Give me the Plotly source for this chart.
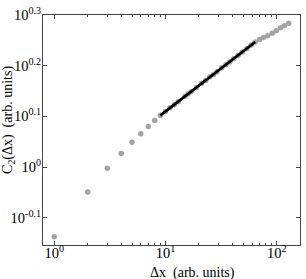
import plotly.graph_objects as go

dx = [1, 2, 3, 4, 5, 6, 7, 8, 9, 10, 11, 12, 13, 15, 16, 17, 19, 21, 23, 25, 27, 29,
      32, 35, 38, 41, 45, 49, 54, 59, 64, 70, 76, 83, 91, 99, 108, 117, 128]
c2 = [0.728, 0.893, 0.995, 1.064, 1.119, 1.164, 1.202, 1.236, 1.265, 1.288, 1.309,
      1.327, 1.346, 1.380, 1.396, 1.409, 1.435, 1.462, 1.483, 1.507, 1.524, 1.542,
      1.570, 1.592, 1.614, 1.637, 1.663, 1.687, 1.714, 1.742, 1.766, 1.786, 1.803,
      1.816, 1.837, 1.858, 1.884, 1.901, 1.923]
fit_range = (9, 64)

y_exps = ["-0.1", "0", "0.1", "0.2", "0.3"]
x_exps = ["0", "1", "2"]

fit_x = [x for x in dx if fit_range[0] <= x <= fit_range[1]]
fit_y = [c for x, c in zip(dx, c2) if fit_range[0] <= x <= fit_range[1]]

font = "Liberation Serif, Times New Roman, serif"

fig = go.Figure()
fig.add_trace(go.Scatter(x=dx, y=c2, mode="markers",
                         marker=dict(color="#a3a3a3", size=5.5), showlegend=False))
fig.add_trace(go.Scatter(x=fit_x, y=fit_y, mode="lines",
                         line=dict(color="black", width=2.6), showlegend=False))

minor_x = [m * 10 ** d for d in range(0, 3) for m in range(2, 10)]

fig.update_layout(
    width=306, height=279,
    margin=dict(l=43, r=5, t=10, b=34),
    paper_bgcolor="white", plot_bgcolor="white",
    font=dict(family=font, size=14, color="black"),
    xaxis=dict(
        type="log", range=[-0.101, 2.209],
        tickmode="array", tickvals=[10 ** float(e) for e in x_exps],
        ticktext=[f"10<sup>{e}</sup>" for e in x_exps],
        ticks="inside", ticklen=4, tickcolor="#444", showgrid=False, zeroline=False,
        showline=True, linecolor="#444", linewidth=1, mirror="ticks",
        minor=dict(tickmode="array", tickvals=minor_x, ticks="inside", ticklen=2,
                   tickcolor="#444", showgrid=False),
        tickfont=dict(size=14.5), ticklabelstandoff=-5,
    ),
    yaxis=dict(
        type="log", range=[-0.154, 0.3003],
        tickmode="array", tickvals=[10 ** float(e) for e in y_exps],
        ticktext=[f"10<sup>{e}</sup>" for e in y_exps],
        ticks="inside", ticklen=4, tickcolor="#444", showgrid=False, zeroline=False,
        showline=True, linecolor="#444", linewidth=1, mirror="ticks",
        tickfont=dict(size=14.5), ticklabelstandoff=-2,
    ),
    annotations=[
        dict(text="Δx\u00a0 (arb. units)", xref="paper", yref="paper",
             x=0.581, y=-0.12, xanchor="center", yanchor="middle",
             showarrow=False, font=dict(size=14)),
        dict(text="C<sub>2</sub>(Δx)\u00a0 (arb. units)", xref="paper", yref="paper",
             x=-0.135, y=0.545, xanchor="center", yanchor="middle", textangle=-90,
             showarrow=False, font=dict(size=14)),
    ],
)

fig.write_html("out.html", config={"displayModeBar": False},
               post_script="document.body.style.margin='0';")
